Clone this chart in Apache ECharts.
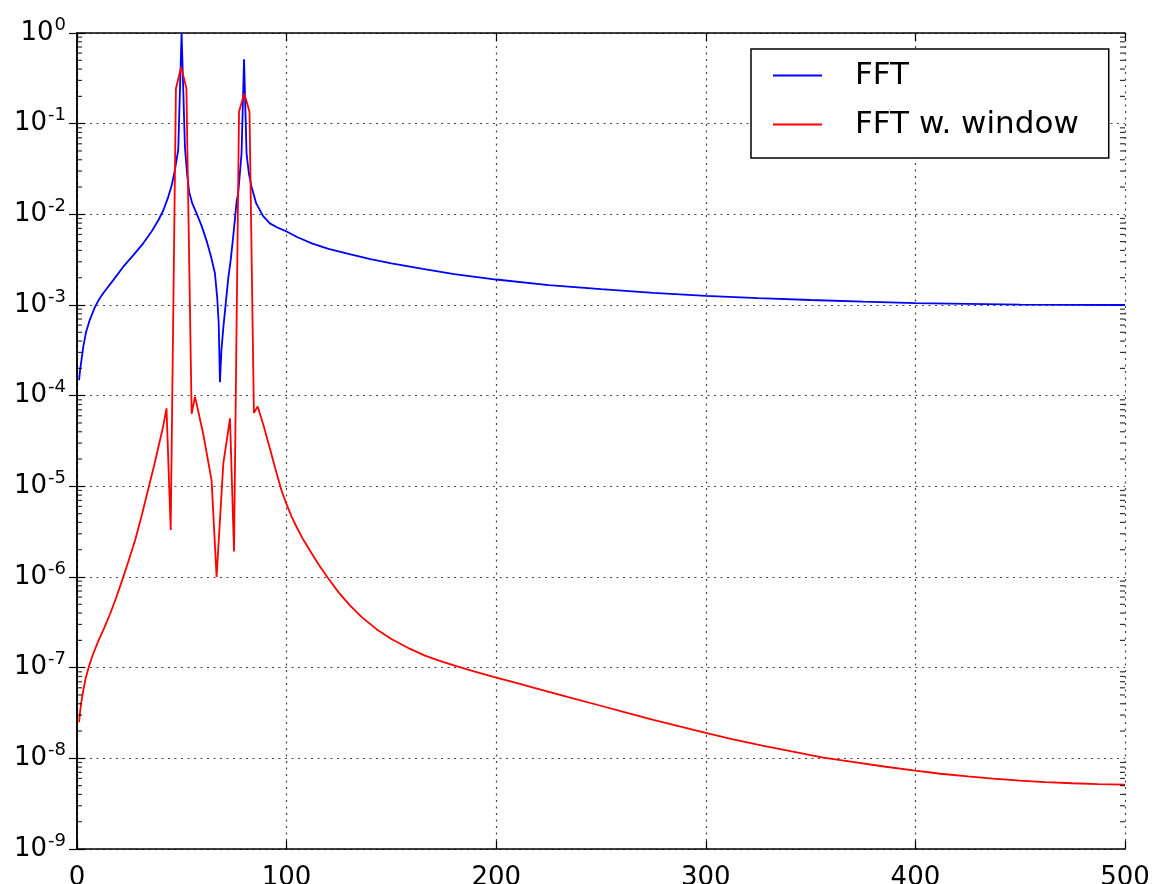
<!DOCTYPE html>
<html>
<head>
<meta charset="utf-8">
<script src="https://cdn.jsdelivr.net/npm/echarts@6/dist/echarts.min.js"></script>
<style>
  html, body { margin: 0; padding: 0; background: #fff; }
  #chart { width: 1153px; height: 884px; }
</style>
</head>
<body>
<div id="chart"></div>
<script>
// plain FFT
var fftFreq = [1, 1.4, 1.9, 3, 4.3, 6, 8.6, 10.5, 12.5, 17.3, 22, 26.9,
  31.6, 35.6, 38.8, 41.2, 43.5, 45.2, 46.7, 48.3, 49.9, 51.5,
  52.5, 53.5, 55, 57.1, 59.5, 61.8, 64, 65.8, 66.9, 67.6,
  68.2, 68.9, 69.8, 71.1, 72.2, 73.3, 74.5, 76.2, 76.9, 78.5,
  79.7, 80.9, 82, 83.3, 85.5, 88.8, 92, 96, 100, 105,
  112, 120, 130, 140, 150, 165, 180, 200, 225, 250,
  275, 300, 325, 350, 375, 400, 425, 450, 475, 500];
var fftMag = [1.48e-4, 1.86e-4, 2.26e-4, 3.47e-4, 5.0e-4, 6.76e-4, 9.55e-4, 1.15e-3, 1.35e-3, 1.88e-3, 2.63e-3, 3.55e-3,
  4.79e-3, 6.46e-3, 8.61e-3, 1.11e-2, 1.55e-2, 2.09e-2, 3.09e-2, 5.13e-2, 1.0, 5.5e-2,
  2.82e-2, 1.78e-2, 1.32e-2, 1.02e-2, 7.41e-3, 5.13e-3, 3.39e-3, 2.24e-3, 1.2e-3, 6.3e-4,
  1.41e-4, 3.16e-4, 5.6e-4, 1.12e-3, 2.0e-3, 3.09e-3, 5.6e-3, 1.41e-2, 1.7e-2, 4.68e-2,
  0.513, 4.68e-2, 2.82e-2, 2.0e-2, 1.32e-2, 9.55e-3, 7.94e-3, 7.08e-3, 6.46e-3, 5.62e-3,
  4.79e-3, 4.17e-3, 3.63e-3, 3.2e-3, 2.88e-3, 2.51e-3, 2.19e-3, 1.91e-3, 1.66e-3, 1.5e-3,
  1.36e-3, 1.26e-3, 1.19e-3, 1.135e-3, 1.09e-3, 1.05e-3, 1.03e-3, 1.01e-3, 1.002e-3, 1.0e-3];

// FFT with window
var winFreq = [1, 1.5, 2, 3, 4, 5.5, 7.5, 10.3, 13, 15.9,
  18.5, 21.5, 24.5, 27.8, 31, 34.2, 36.8, 39, 41, 42.7,
  44.7, 47.2, 49.7, 52.2, 54.7, 56.3, 60.2, 64.2, 66.6, 69.8,
  73.0, 74.9, 77.3, 79.8, 82.3, 84.4, 86.2, 89, 92, 94.8,
  97.5, 100, 102.5, 105, 108, 111.4, 115.5, 120, 125, 130.3,
  136, 142.9, 150, 158.7, 166, 174.5, 181, 188.6, 200, 210,
  218.6, 234.4, 249, 262, 275, 287, 300, 313, 327, 341,
  356, 370, 385, 400, 412, 425, 437, 450, 462, 475,
  487, 500];
var winMag = [2.51e-8, 3.31e-8, 4.07e-8, 5.62e-8, 7.41e-8, 1.0e-7, 1.38e-7, 2.0e-7, 2.75e-7, 3.98e-7,
  5.75e-7, 9.12e-7, 1.48e-6, 2.57e-6, 4.9e-6, 9.77e-6, 1.7e-5, 2.82e-5, 4.47e-5, 7.24e-5,
  3.31e-6, 0.244, 0.422, 0.245, 6.31e-5, 9.77e-5, 3.8e-5, 1.17e-5, 1.0e-6, 1.78e-5,
  5.62e-5, 1.91e-6, 0.135, 0.215, 0.135, 6.46e-5, 7.59e-5, 4.68e-5, 2.63e-5, 1.51e-5,
  9.12e-6, 6.31e-6, 4.57e-6, 3.47e-6, 2.57e-6, 1.91e-6, 1.35e-6, 9.55e-7, 6.68e-7, 4.84e-7,
  3.59e-7, 2.66e-7, 2.07e-7, 1.62e-7, 1.36e-7, 1.16e-7, 1.04e-7, 9.23e-8, 7.76e-8, 6.76e-8,
  5.96e-8, 4.73e-8, 3.85e-8, 3.2e-8, 2.66e-8, 2.26e-8, 1.91e-8, 1.62e-8, 1.38e-8, 1.19e-8,
  1.02e-8, 9.12e-9, 8.13e-9, 7.33e-9, 6.76e-9, 6.31e-9, 5.96e-9, 5.69e-9, 5.47e-9, 5.31e-9,
  5.19e-9, 5.13e-9];

var seriesNames = ['FFT', 'FFT w. window'];

var font = 'DejaVu Sans';

function pairs(xs, ys) {
  var res = [];
  for (var i = 0; i < xs.length; i++) {
    res.push([xs[i], ys[i]]);
  }
  return res;
}

// minor log ticks 2..9 in each decade, drawn on both sides
var minorVals = [];
for (var e = -9; e < 0; e++) {
  for (var k = 2; k <= 9; k++) {
    minorVals.push(k * Math.pow(10, e));
  }
}
function tickData(x) {
  return minorVals.map(function (v) { return [x, v]; });
}

var chart = echarts.init(document.getElementById('chart'));

var option = {
  backgroundColor: '#fff',
  animation: false,
  grid: { left: 77, right: 28, top: 33, bottom: 35, containLabel: false, outerBoundsMode: 'none' },
  legend: {
    data: seriesNames,
    orient: 'vertical',
    left: 751,
    top: 49,
    backgroundColor: '#fff',
    borderColor: '#000',
    borderWidth: 1.5,
    borderRadius: 0,
    padding: [11, 30, 18, 22],
    itemWidth: 49,
    itemHeight: 2,
    itemGap: 18,
    icon: 'rect',
    textStyle: { fontFamily: font, fontSize: 31, color: '#000', lineHeight: 30, padding: [0, 0, 0, 28] }
  },
  xAxis: [
    {
      type: 'value',
      min: 0, max: 500, interval: 100,
      axisLine: { show: true, lineStyle: { color: '#000', width: 1.5 } },
      axisTick: { show: true, inside: true, length: 8, lineStyle: { color: '#000', width: 1.2 } },
      axisLabel: { fontFamily: font, fontSize: 26, color: '#000', margin: 16 },
      splitLine: { show: true, lineStyle: { color: '#444', width: 1.2, type: [2, 4.5] } }
    },
    {
      type: 'value', position: 'top',
      min: 0, max: 500, interval: 100,
      axisLine: { show: true, lineStyle: { color: '#000', width: 1.5 } },
      axisTick: { show: true, inside: true, length: 8, lineStyle: { color: '#000', width: 1.2 } },
      axisLabel: { show: false },
      splitLine: { show: false }
    }
  ],
  yAxis: [
    {
      type: 'log', logBase: 10,
      min: 1e-9, max: 1, interval: 1,
      axisLine: { show: true, lineStyle: { color: '#000', width: 1.5 } },
      axisTick: { show: true, inside: true, length: 8, lineStyle: { color: '#000', width: 1.2 } },
      axisLabel: {
        margin: 11,
        formatter: function (v) {
          var p = Math.round(Math.log10(v));
          return '{b|10}{s|' + p + '}';
        },
        rich: {
          b: { fontFamily: font, fontSize: 26, color: '#000' },
          s: { fontFamily: font, fontSize: 18, color: '#000', padding: [0, 0, 16, 1] }
        }
      },
      splitLine: { show: true, lineStyle: { color: '#444', width: 1.2, type: [2, 4.5] } }
    },
    {
      type: 'log', logBase: 10, position: 'right',
      min: 1e-9, max: 1, interval: 1,
      axisLine: { show: true, lineStyle: { color: '#000', width: 1.5 } },
      axisTick: { show: true, inside: true, length: 8, lineStyle: { color: '#000', width: 1.2 } },
      axisLabel: { show: false },
      splitLine: { show: false }
    }
  ],
  series: [
    {
      name: seriesNames[0],
      type: 'line',
      data: pairs(fftFreq, fftMag),
      showSymbol: false,
      symbol: 'none',
      color: '#0000ff',
      lineStyle: { color: '#0000ff', width: 1.8 }
    },
    {
      name: seriesNames[1],
      type: 'line',
      data: pairs(winFreq, winMag),
      showSymbol: false,
      symbol: 'none',
      color: '#ff0000',
      lineStyle: { color: '#ff0000', width: 1.8 }
    },
    {
      name: 'minorLeft',
      type: 'scatter',
      data: tickData(0),
      symbol: 'rect',
      symbolSize: [5, 1.2],
      symbolOffset: [2.5, 0],
      itemStyle: { color: '#000' },
      silent: true,
      clip: false,
      z: 5
    },
    {
      name: 'minorRight',
      type: 'scatter',
      data: tickData(500),
      symbol: 'rect',
      symbolSize: [5, 1.2],
      symbolOffset: [-2.5, 0],
      itemStyle: { color: '#000' },
      silent: true,
      clip: false,
      z: 5
    }
  ]
};

chart.setOption(option);
</script>
</body>
</html>
